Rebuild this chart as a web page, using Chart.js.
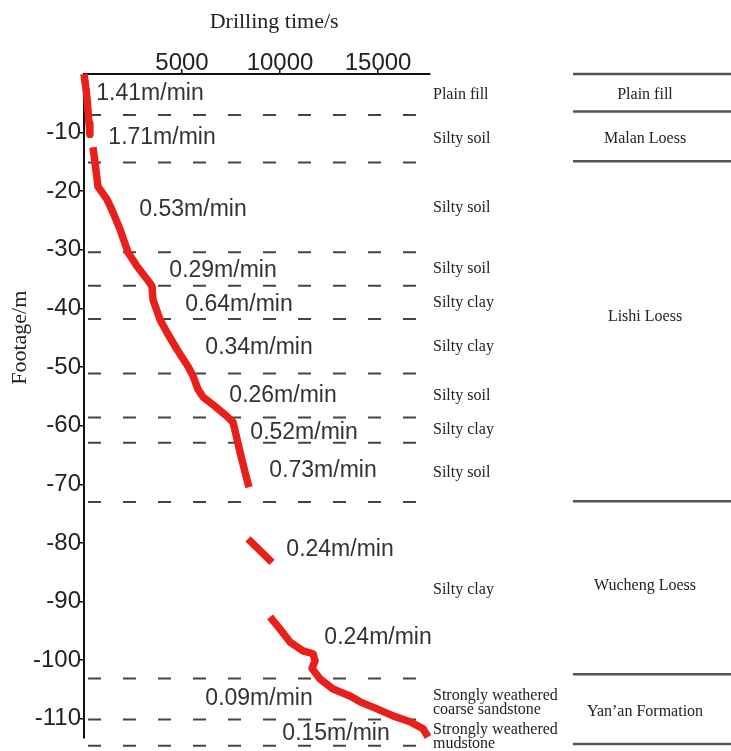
<!DOCTYPE html>
<html>
<head>
<meta charset="utf-8">
<script src="https://cdn.jsdelivr.net/npm/chart.js@4.4.1/dist/chart.umd.min.js"></script>
<style>
  body { margin: 0; background: #fff; }
  #wrap { width: 731px; height: 751px; }
</style>
</head>
<body>
<div id="wrap"><canvas id="drillChart"></canvas></div>
<script>
// drilling record (time in s, footage in m), null = no record logged
const drillTime = [0, 120, 200, 260, 300, null,
  459, 561, 714, 1173, 1480, 1837, 2245, 2704, 3214, 3469, 3520, 3878, 4235, 4745,
  5306, 5561, 5816, 6071, 6684, 7296, 7602, 7806, 7959, 8214, 8418, null,
  8367, 8980, 9592, null,
  9490, 10000, 10510, 11173, 11684, 11786, 11633, 12041, 12704, 13571, 14082,
  14949, 15765, 16633, 17296, 17551];
const footage = [0, -3, -6, -8.5, -10.3, null,
  -12.5, -15.1, -19.2, -21.4, -23.6, -26.5, -30.4, -32.8, -35, -36.2, -38.5, -41.9, -44.1, -47,
  -49.9, -51.5, -53.8, -55.1, -56.7, -58.4, -59.4, -62.3, -64.5, -67.9, -70.5, null,
  -79.3, -81.3, -83.3, null,
  -92.6, -94.7, -96.9, -98.4, -98.9, -100.1, -101.4, -103.2, -104.9, -106.1, -107.1,
  -108.3, -109.5, -110.5, -111.7, -113.1];

const timeTicks = [5000, 10000, 15000];
const depthTicks = [-10, -20, -30, -40, -50, -60, -70, -80, -90, -100, -110];

// lithology layers: bottom of each layer and its name
const layerTop = 0;
const layerBottoms = [-7, -15.1, -30.4, -36.1, -41.8, -51.1, -58.6, -62.9, -73, -103.1, -110.1, -114.6];
const layerNames = ['Plain fill', 'Silty soil', 'Silty soil', 'Silty soil', 'Silty clay', 'Silty clay',
  'Silty soil', 'Silty clay', 'Silty soil', 'Silty clay',
  'Strongly weathered\ncoarse sandstone', 'Strongly weathered\nmudstone'];

// stratigraphic units
const formationBounds = [0, -6.4, -14.9, -72.9, -102.4, -114.3];
const formationNames = ['Plain fill', 'Malan Loess', 'Lishi Loess', 'Wucheng Loess', 'Yan\u2019an Formation'];

// penetration rate per interval (m/min)
const rates = [1.41, 1.71, 0.53, 0.29, 0.64, 0.34, 0.26, 0.52, 0.73, 0.24, 0.24, 0.09, 0.15];

// where things get written, in axis units
const rateAt = [[3367, -3.4], [3980, -10.85], [5561, -23.1], [7092, -33.5], [7908, -39.3],
  [8929, -46.6], [10153, -54.8], [11224, -61.1], [12194, -67.6], [13061, -81.2],
  [15000, -96.2], [8929, -106.6], [12857, -112.6]];
const formationLabelDepth = [-3.5, -11, -41.5, -87.3, -108.8];

const SANS = '"Liberation Sans", Arial, sans-serif';
const SERIF = '"Liberation Serif", "Times New Roman", serif';

// split the record into separate traces at the nulls
const traces = [];
let cur = [];
drillTime.forEach((t, i) => {
  if (t === null || footage[i] === null) {
    if (cur.length) traces.push(cur);
    cur = [];
  } else {
    cur.push({ x: t, y: footage[i] });
  }
});
if (cur.length) traces.push(cur);

const datasets = traces.map(pts => ({
  data: pts,
  showLine: true,
  borderColor: '#e8201c',
  backgroundColor: '#e8201c',
  borderWidth: 7.5,
  borderJoinStyle: 'round',
  pointRadius: 0,
  clip: false
}));

layerBottoms.forEach(d => {
  datasets.push({
    data: [{ x: 0, y: d }, { x: 17150, y: d }],
    showLine: true,
    borderColor: '#444',
    borderWidth: 2,
    borderDash: [13, 22],
    borderDashOffset: -4,
    pointRadius: 0,
    clip: false
  });
});

const annotate = {
  id: 'annotate',
  afterDraw(chart) {
    const { ctx, chartArea, scales: { x, y } } = chart;
    ctx.save();

    // axis titles
    ctx.fillStyle = '#222';
    ctx.font = '22px ' + SERIF;
    ctx.textAlign = 'center';
    ctx.textBaseline = 'middle';
    ctx.fillText('Drilling time/s', x.getPixelForValue(9700), 22);
    ctx.save();
    ctx.translate(20, y.getPixelForValue(-45));
    ctx.rotate(-Math.PI / 2);
    ctx.fillText('Footage/m', 0, 0);
    ctx.restore();

    // rate labels
    ctx.fillStyle = '#333';
    ctx.font = '23px ' + SANS;
    rates.forEach((r, i) => {
      const [t, d] = rateAt[i];
      ctx.fillText(r.toFixed(2) + 'm/min', x.getPixelForValue(t), y.getPixelForValue(d));
    });

    // lithology names (two-line names start just above the layer middle)
    ctx.fillStyle = '#222';
    ctx.font = '16px ' + SERIF;
    ctx.textAlign = 'left';
    layerNames.forEach((name, i) => {
      const top = i === 0 ? layerTop : layerBottoms[i - 1];
      const mid = y.getPixelForValue((top + layerBottoms[i]) / 2);
      const lines = name.split('\n');
      const start = lines.length > 1 ? mid - 3 : mid;
      lines.forEach((ln, k) => {
        ctx.fillText(ln, chartArea.right + 3, start + k * 14);
      });
    });

    // stratigraphic column
    const colLeft = chartArea.right + 143;
    ctx.strokeStyle = '#555';
    ctx.lineWidth = 2.5;
    formationBounds.forEach(d => {
      const py = y.getPixelForValue(d);
      ctx.beginPath();
      ctx.moveTo(colLeft, py);
      ctx.lineTo(chart.width, py);
      ctx.stroke();
    });
    ctx.font = '16px ' + SERIF;
    ctx.textAlign = 'center';
    formationNames.forEach((name, i) => {
      ctx.fillText(name, colLeft + 72, y.getPixelForValue(formationLabelDepth[i]));
    });

    ctx.restore();
  }
};

new Chart(document.getElementById('drillChart'), {
  type: 'scatter',
  data: { datasets },
  options: {
    responsive: true,
    maintainAspectRatio: false,
    animation: false,
    layout: { padding: { left: 0, top: 0, right: 301, bottom: 12 } },
    plugins: { legend: { display: false }, tooltip: { enabled: false } },
    scales: {
      x: {
        type: 'linear',
        position: 'top',
        min: 0,
        max: 17650,
        afterBuildTicks: s => { s.ticks = timeTicks.map(v => ({ value: v })); },
        afterFit: s => { s.height = 74; },
        border: { display: true, color: '#111', width: 2 },
        grid: { drawOnChartArea: false, drawTicks: true, tickLength: 5, color: '#111', lineWidth: 1.5 },
        ticks: {
          color: '#222', padding: -9, maxRotation: 0,
          font: { family: SANS, size: 24 },
          callback: v => String(v)
        }
      },
      y: {
        type: 'linear',
        min: -113.2,
        max: 0,
        afterBuildTicks: s => { s.ticks = depthTicks.map(v => ({ value: v })); },
        afterFit: s => { s.width = 84; },
        border: { display: true, color: '#111', width: 2 },
        grid: { drawOnChartArea: false, drawTicks: true, tickLength: 4, color: '#111', lineWidth: 1.5 },
        ticks: {
          color: '#222', padding: -1,
          font: { family: SANS, size: 24 },
          callback: v => String(v)
        }
      }
    }
  },
  plugins: [annotate]
});
</script>
</body>
</html>
